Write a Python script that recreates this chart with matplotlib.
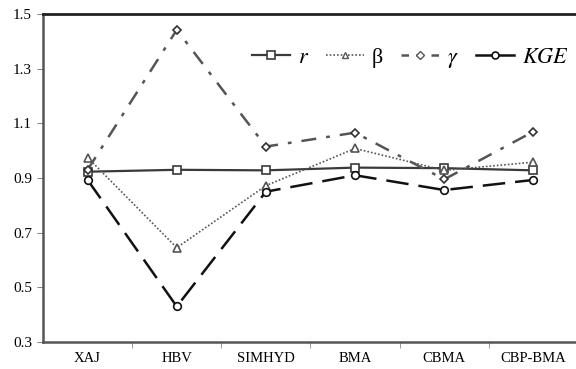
import numpy as np
import matplotlib.pyplot as plt
from matplotlib.lines import Line2D

models = ["XAJ", "HBV", "SIMHYD", "BMA", "CBMA", "CBP-BMA"]
r_vals = [0.923, 0.930, 0.928, 0.938, 0.936, 0.928]
beta_vals = [0.975, 0.645, 0.872, 1.008, 0.928, 0.958]
gamma_vals = [0.930, 1.442, 1.015, 1.066, 0.895, 1.070]
kge_vals = [0.893, 0.430, 0.850, 0.910, 0.856, 0.893]
yticks = [0.3, 0.5, 0.7, 0.9, 1.1, 1.3, 1.5]

plt.rcParams['font.family'] = ['Liberation Serif', 'DejaVu Serif']
plt.rcParams['mathtext.fontset'] = 'stix'

fig = plt.figure(figsize=(5.76, 3.69), dpi=100)
ax = fig.add_axes([43/576, 1 - 342/369, 535/576, 328/369])

x = np.arange(len(models))
mk = dict(markerfacecolor='white', markeredgewidth=1.2, markersize=5.5)

ax.plot(x, r_vals, color='#3a3a3a', lw=1.6, marker='s', markeredgecolor='#3a3a3a', **mk)
ax.plot(x, beta_vals, color='#555555', lw=1.2, ls=(0, (1, 1.2)), marker='^',
        markeredgecolor='#555555', **mk)
ax.plot(x, gamma_vals, color='#555555', lw=1.8, ls=(0, (6, 4, 1.5, 4)), marker='D',
        markeredgecolor='#333333', markerfacecolor='white', markeredgewidth=1.2, markersize=4.5)
ax.plot(x, kge_vals, color='#111111', lw=1.8, ls=(0, (9, 4)), marker='o',
        markeredgecolor='#111111', **mk)

ax.set_xlim(-0.5, 5.5)
ax.set_ylim(0.3, 1.5)
ax.set_yticks(yticks)
ax.set_yticklabels([f"{v:.1f}" for v in yticks], fontsize=11)
ax.set_xticks(x)
ax.set_xticklabels(models, fontsize=10.5)
ax.tick_params(axis='x', length=0, pad=7)
ax.set_xticks(np.arange(0.5, 5, 1), minor=True)
ax.tick_params(axis='x', which='minor', length=4, color='#888888')
ax.tick_params(axis='y', length=4, color='#888888', pad=4)

ax.spines['right'].set_visible(False)
ax.spines['top'].set_linewidth(2)
ax.spines['top'].set_color('#222222')
ax.spines['left'].set_linewidth(1.8)
ax.spines['left'].set_color('#555555')
ax.spines['bottom'].set_linewidth(1.8)
ax.spines['bottom'].set_color('#555555')

handles = [
    Line2D([], [], color='#3a3a3a', lw=1.6, marker='s', markeredgecolor='#3a3a3a',
           markerfacecolor='white', markersize=5.5, markeredgewidth=1.2),
    Line2D([], [], color='#555555', lw=1.2, ls=(0, (1, 1.2)), marker='^',
           markeredgecolor='#555555', markerfacecolor='white', markersize=5, markeredgewidth=1),
    Line2D([], [], color='#555555', lw=1.8, ls=(0, (3, 3)), marker='D',
           markeredgecolor='#555555', markerfacecolor='white', markersize=4, markeredgewidth=1),
    Line2D([], [], color='#111111', lw=1.8, marker='o', markeredgecolor='#111111',
           markerfacecolor='white', markersize=5, markeredgewidth=1.2),
]
labels = [r"$\it{r}$", "β", r"$\it{\gamma}$", r"$\it{KGE}$"]
ax.legend(handles, labels, loc='upper right', bbox_to_anchor=(1.02, 0.96),
          ncol=4, frameon=False, fontsize=16, handlelength=1.7,
          columnspacing=0.8, handletextpad=0.35)

fig.savefig("out.png", dpi=100)
